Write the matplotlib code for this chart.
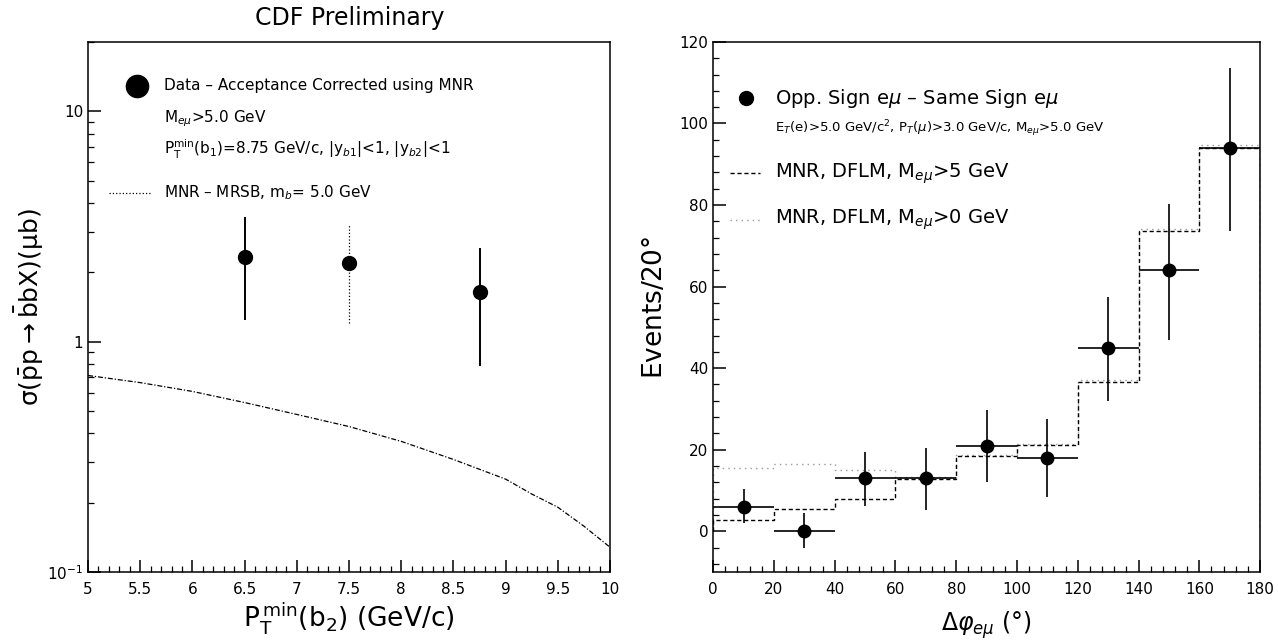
import numpy as np
import matplotlib
matplotlib.use('Agg')
import matplotlib.pyplot as plt
from matplotlib.ticker import MultipleLocator, LogLocator, NullFormatter

plt.rcParams['font.family'] = ['DejaVu Sans']
plt.rcParams['mathtext.fontset'] = 'dejavusans'

# ---- left panel: cross section vs PTmin(b2)
pt_data = [6.5, 7.5, 8.75]
sigma_data = [2.33, 2.2, 1.65]
sigma_lo = [1.245, 1.21, 0.787]
sigma_hi = [3.48, 3.24, 2.55]

pt_mnr = [5.0, 5.5, 6.0, 6.5, 7.0, 7.5, 8.0, 8.5, 9.0, 9.25, 9.5, 9.75, 10.0]
sigma_mnr = [0.713, 0.664, 0.608, 0.544, 0.483, 0.428, 0.369, 0.308, 0.253, 0.218, 0.191, 0.158, 0.128]

# ---- right panel: delta phi distribution
dphi_edges = [0, 20, 40, 60, 80, 100, 120, 140, 160, 180]
dphi_centers = [10, 30, 50, 70, 90, 110, 130, 150, 170]
events = [6, 0, 13, 13, 21, 18, 45, 64, 94]
events_lo = [2, -4, 6.3, 5.3, 12, 8.5, 32, 47, 73.7]
events_hi = [10.4, 4.5, 19.4, 20.3, 29.8, 27.5, 57.4, 80.2, 113.7]
mnr_m5 = [2.8, 5.4, 8, 12.8, 18.4, 21.2, 36.7, 73.7, 94]
mnr_m0 = [15.5, 16.5, 15, 13.2, 18.6, 21.4, 37, 74, 94.6]

EN = '\u2013'

fig = plt.figure(figsize=(12.78, 6.41), dpi=100)

# left
ax1 = fig.add_axes([0.0689, 0.1076, 0.4085, 0.827])
ax1.set_yscale('log')
ax1.plot(pt_mnr, sigma_mnr, color='black', lw=0.9, linestyle=(0, (4, 1.5, 1, 1.5)))
yerr1 = [np.subtract(sigma_data, sigma_lo), np.subtract(sigma_hi, sigma_data)]
eb = ax1.errorbar(pt_data, sigma_data, yerr=yerr1, fmt='o', color='black',
                  ms=10, elinewidth=1.4, capsize=0)
eb[2][0].set_linestyles(['-', ':', '-'])
eb[2][0].set_linewidths([1.4, 0.9, 1.4])
ax1.set_xlim(5, 10)
ax1.set_ylim(0.1, 20)
ax1.xaxis.set_minor_locator(MultipleLocator(0.1))
ax1.set_xticks([5, 5.5, 6, 6.5, 7, 7.5, 8, 8.5, 9, 9.5, 10],
               ['5', '5.5', '6', '6.5', '7', '7.5', '8', '8.5', '9', '9.5', '10'])
ax1.set_yticks([0.1, 1, 10], [r'$10^{-1}$', '1', '10'])
ax1.yaxis.set_minor_locator(LogLocator(base=10, subs=np.arange(2, 10)))
ax1.yaxis.set_minor_formatter(NullFormatter())
ax1.set_xlabel(r'$\mathregular{P_T^{\,min}(b_2)}$ (GeV/c)', fontsize=19, labelpad=2)
ax1.set_ylabel(r'$\mathregular{\sigma(\bar{p}p \rightarrow \bar{b}bX)(\mu b)}$', fontsize=18)
ax1.yaxis.set_label_coords(-0.08, 0.5)
fig.text(0.274, 0.972, 'CDF Preliminary', fontsize=17, ha='center', va='center')

# left legend
ax1.plot([0.094], [0.917], 'o', color='black', ms=16, transform=ax1.transAxes, clip_on=False)
ax1.text(0.145, 0.917, 'Data ' + EN + ' Acceptance Corrected using MNR', fontsize=11,
         transform=ax1.transAxes, va='center')
ax1.text(0.145, 0.855, r'M$_{e\mu}$>5.0 GeV', fontsize=11, transform=ax1.transAxes, va='center')
ax1.text(0.145, 0.797,
         r'P$_\mathregular{T}^\mathregular{min}$(b$_1$)=8.75 GeV/c, |y$_{b1}$|<1, |y$_{b2}$|<1',
         fontsize=11, transform=ax1.transAxes, va='center')
ax1.plot([0.04, 0.12], [0.715, 0.715], color='black', lw=0.9, linestyle=':',
         transform=ax1.transAxes)
ax1.text(0.145, 0.715, 'MNR ' + EN + r' MRSB, m$_b$= 5.0 GeV',
         fontsize=11, transform=ax1.transAxes, va='center')

# right
ax2 = fig.add_axes([0.558, 0.1076, 0.428, 0.827])
ax2.stairs(mnr_m0, dphi_edges, color='#9a9a9a', lw=1.0, linestyle=(0, (1, 3)))
ax2.stairs(mnr_m5, dphi_edges, color='black', lw=1.0, linestyle=(0, (3, 2)))
yerr2 = [np.subtract(events, events_lo), np.subtract(events_hi, events)]
ax2.errorbar(dphi_centers, events, xerr=10, yerr=yerr2, fmt='o', color='black',
             ms=9, elinewidth=1.2, capsize=0)
ax2.set_xlim(0, 180)
ax2.set_ylim(-10, 120)
ax2.xaxis.set_major_locator(MultipleLocator(20))
ax2.xaxis.set_minor_locator(MultipleLocator(4))
ax2.yaxis.set_major_locator(MultipleLocator(20))
ax2.yaxis.set_minor_locator(MultipleLocator(4))
ax2.set_xlabel(r'$\Delta\varphi_{e\mu}$ ($\degree$)', fontsize=17, labelpad=9)
ax2.set_ylabel(r'Events/20$\degree$', fontsize=19, labelpad=8)

# right legend
ax2.plot([0.06], [0.894], 'o', color='black', ms=10, transform=ax2.transAxes, clip_on=False)
ax2.text(0.113, 0.894, r'Opp. Sign e$\mu$ ' + EN + r' Same Sign e$\mu$',
         fontsize=14, transform=ax2.transAxes, va='center')
ax2.text(0.113, 0.836, r'E$_T$(e)>5.0 GeV/c$^2$, P$_T$($\mu$)>3.0 GeV/c, M$_{e\mu}$>5.0 GeV',
         fontsize=9.5, transform=ax2.transAxes, va='center')
ax2.plot([0.03, 0.085], [0.752, 0.752], color='black', lw=1.0, linestyle=(0, (3, 2)),
         transform=ax2.transAxes)
ax2.text(0.113, 0.752, r'MNR, DFLM, M$_{e\mu}$>5 GeV', fontsize=14,
         transform=ax2.transAxes, va='center')
ax2.plot([0.03, 0.085], [0.664, 0.664], color='#9a9a9a', lw=1.0, linestyle=(0, (1, 3)),
         transform=ax2.transAxes)
ax2.text(0.113, 0.664, r'MNR, DFLM, M$_{e\mu}$>0 GeV', fontsize=14,
         transform=ax2.transAxes, va='center')

for ax in (ax1, ax2):
    ax.tick_params(which='major', direction='in', length=9, width=1.1, labelsize=11,
                   top=False, right=False)
    ax.tick_params(which='minor', direction='in', length=4.5, width=0.9,
                   top=False, right=False)
    ax.tick_params(axis='x', which='major', pad=7)
    for s in ax.spines.values():
        s.set_linewidth(1.1)

plt.savefig('out.png', dpi=100)
